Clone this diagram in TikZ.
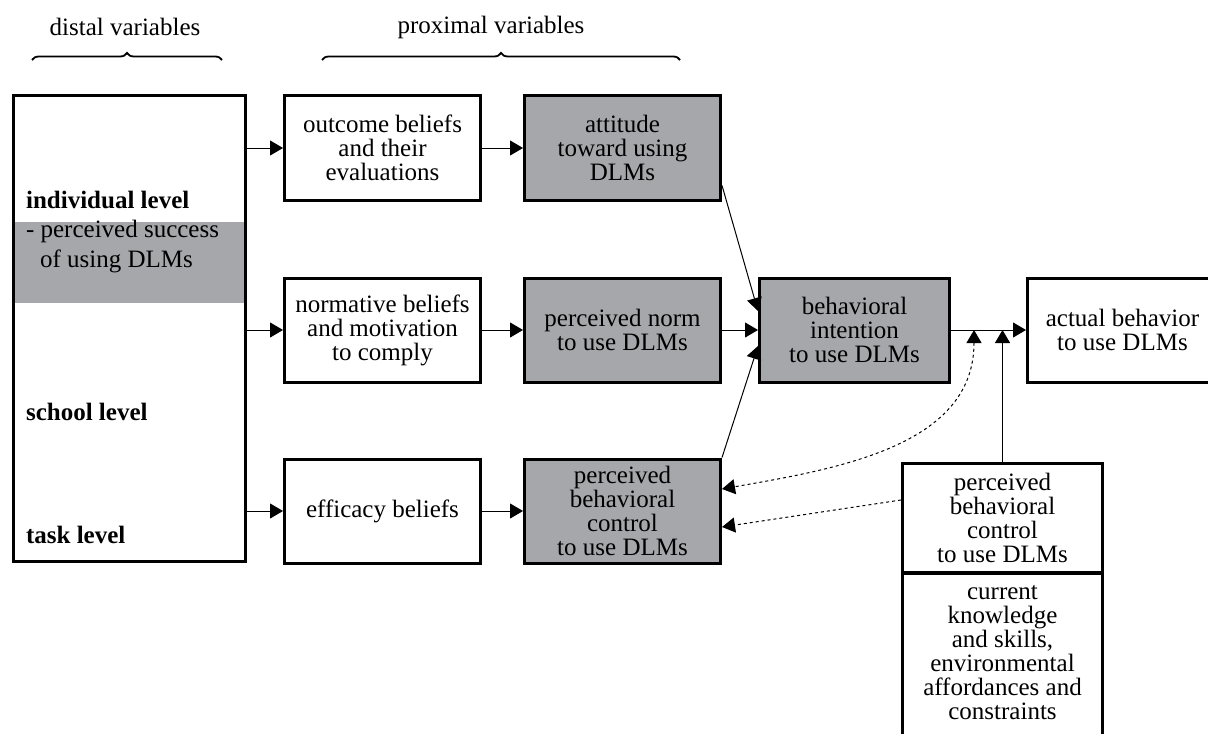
\documentclass[tikz,border=0pt]{standalone}
\usepackage{fontspec}
\setmainfont{Liberation Serif}
\usetikzlibrary{arrows.meta,positioning,decorations.pathreplacing,backgrounds}
\definecolor{dlmgray}{RGB}{166,167,171}
\newcommand{\dlmfont}{\fontsize{12.5pt}{12pt}\selectfont}

\begin{document}
\begin{tikzpicture}[x=0.5pt,y=-0.5pt,on grid,node distance=120pt,font=\dlmfont,
    >={Triangle[length=6.5pt,width=7.5pt]},
    frame/.style={draw,line width=1.5pt},
    box/.style={frame,align=center,minimum width=98pt,minimum height=52pt,inner sep=2pt},
    shaded/.style={box,fill=dlmgray},
    arr/.style={->,line width=0.5pt},
    dasharr/.style={arr,dash pattern=on 1.5pt off 1.5pt},
    curly/.style={decorate,decoration={brace,amplitude=3.5pt},line width=0.9pt}]
\clip (0,0) rectangle (1208,733);

% headings
\node (distlab) at (125,27) {distal variables};
\node (proxlab) at (491,27) {proximal variables};
\draw[curly] (32,60) -- (222,60);
\draw[curly] (322,60) -- (680,60);

% distal variables
\node[box,minimum width=116pt,minimum height=233pt] (distal) at (129.5,328.5) {};
\begin{scope}[on background layer]
\fill[dlmgray] (distal.west |- 0,222) rectangle (distal.east |- 0,303);
\end{scope}
\node[anchor=base west,font=\dlmfont\bfseries] (indiv) at (19,208) {individual level};
\node[anchor=base west] (succ) at (19,237) {- perceived success};
\node[anchor=base west] (succb) at (33,267) {of using DLMs};
\node[anchor=base west,font=\dlmfont\bfseries] (school) at (19,420) {school level};
\node[anchor=base west,font=\dlmfont\bfseries] (task) at (19,543) {task level};

% proximal variables
\node[box] (outcome) at (382.5,148) {outcome beliefs\\and their\\evaluations};
\node[box,below=91pt of outcome] (normative) {normative beliefs\\and motivation\\to comply};
\node[box,below=90.5pt of normative] (efficacy) {efficacy beliefs};
\node[shaded,right=120pt of outcome] (attitude) {attitude\\toward using\\DLMs};
\node[shaded,right=120pt of normative] (norm) {perceived norm\\to use DLMs};
\node[shaded,right=120pt of efficacy] (pbc) {perceived\\behavioral\\control\\to use DLMs};

% intention and behavior
\node[shaded,minimum width=95pt,right=116pt of norm] (intention) {behavioral\\intention\\to use DLMs};
\node[box,minimum width=95pt,right=134pt of intention] (behavior) {actual behavior\\to use DLMs};
\node[box,minimum width=100pt,minimum height=54.5pt] (control) at (1002.5,517.5) {perceived\\behavioral\\control\\to use DLMs};
\node[align=center,minimum width=100pt,anchor=north,inner ysep=6pt] (factors) at (control.south) {current\\knowledge\\and skills,\\environmental\\affordances and\\constraints};
\draw[frame] (factors.north west) rectangle ([yshift=-20pt]factors.south east);

\draw[arr] (distal.east |- outcome) -- (outcome);
\draw[arr] (distal.east |- normative) -- (normative);
\draw[arr] (distal.east |- efficacy) -- (efficacy);
\draw[arr] (outcome) -- (attitude);
\draw[arr] (normative) -- (norm);
\draw[arr] (efficacy) -- (pbc);
\draw[arr] ([yshift=8pt]attitude.south east) -- ([yshift=9.5pt]intention.west);
\draw[arr] (norm) -- (intention);
\draw[arr] (pbc.north east) -- ([yshift=-8pt]intention.west);
\draw[arr] (intention) -- (behavior);
\coordinate (moderate) at ([xshift=11.5pt]intention.east);
\draw[arr] (control.north) -- (control.north |- intention.east);
\draw[dasharr,<->] (moderate) to[out=-90,in=10] ([yshift=11pt]pbc.east);
\draw[dasharr] ([yshift=8.75pt]control.west) -- ([yshift=-8pt]pbc.east);
\end{tikzpicture}
\end{document}
